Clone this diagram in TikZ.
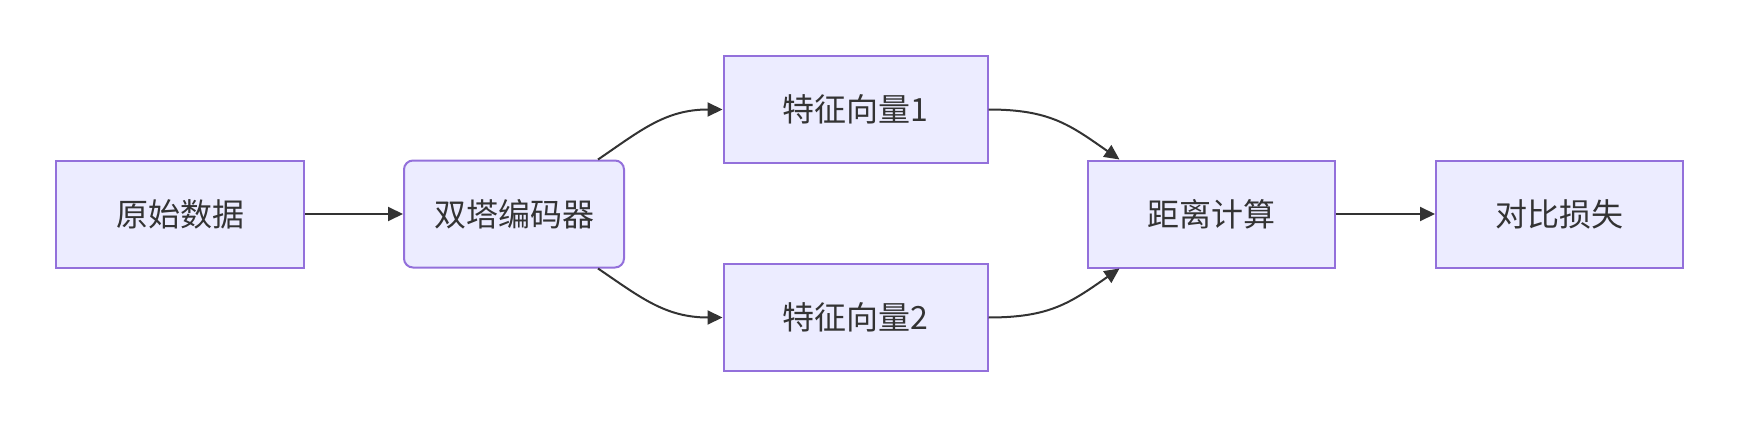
\documentclass[tikz,border=0pt]{standalone}
\usepackage{fontspec}
\setmainfont{Noto Sans CJK SC}
\usetikzlibrary{arrows.meta}
\definecolor{boxfill}{HTML}{ECECFF}
\definecolor{boxline}{HTML}{9370DB}
\definecolor{ink}{HTML}{333333}
\tikzset{
  box/.style={draw=boxline, fill=boxfill, line width=2pt, inner sep=0pt,
    minimum height=107pt, text=ink, font=\fontsize{32}{38}\selectfont},
  roundbox/.style={box, rounded corners=9pt},
  link/.style={draw=ink, line width=2pt, -{Triangle[length=15pt,width=14pt]}},
}
\begin{document}
\begin{tikzpicture}[x=1pt,y=-1pt]
\useasboundingbox (0,0) rectangle (1740,428);
\node[box, minimum width=248pt] (A) at (180,214) {原始数据};
\node[roundbox, minimum width=220pt] (B) at (514,214) {双塔编码器};
\node[box, minimum width=264pt] (C) at (855.5,109.5) {特征向量1};
\node[box, minimum width=264pt] (D) at (855.5,317.5) {特征向量2};
\node[box, minimum width=247pt] (E) at (1211,214) {距离计算};
\node[box, minimum width=247pt] (F) at (1559.5,214) {对比损失};
\coordinate (Bt) at ([xshift=-27pt]B.north east);
\coordinate (Bb) at ([xshift=-27pt]B.south east);
\coordinate (Et) at ([xshift=33pt]E.north west);
\coordinate (Eb) at ([xshift=33pt]E.south west);
\draw[link] (A.east) -- (B.west);
\draw[link] (Bt) .. controls (640,131) and (665,109.5) .. (C.west);
\draw[link] (Bb) .. controls (640,297) and (665,317.5) .. (D.west);
\draw[link] (C.east) .. controls (1050,109.5) and (1070,125) .. (Et);
\draw[link] (D.east) .. controls (1050,317.5) and (1070,303) .. (Eb);
\draw[link] (E.east) -- (F.west);
\end{tikzpicture}
\end{document}
